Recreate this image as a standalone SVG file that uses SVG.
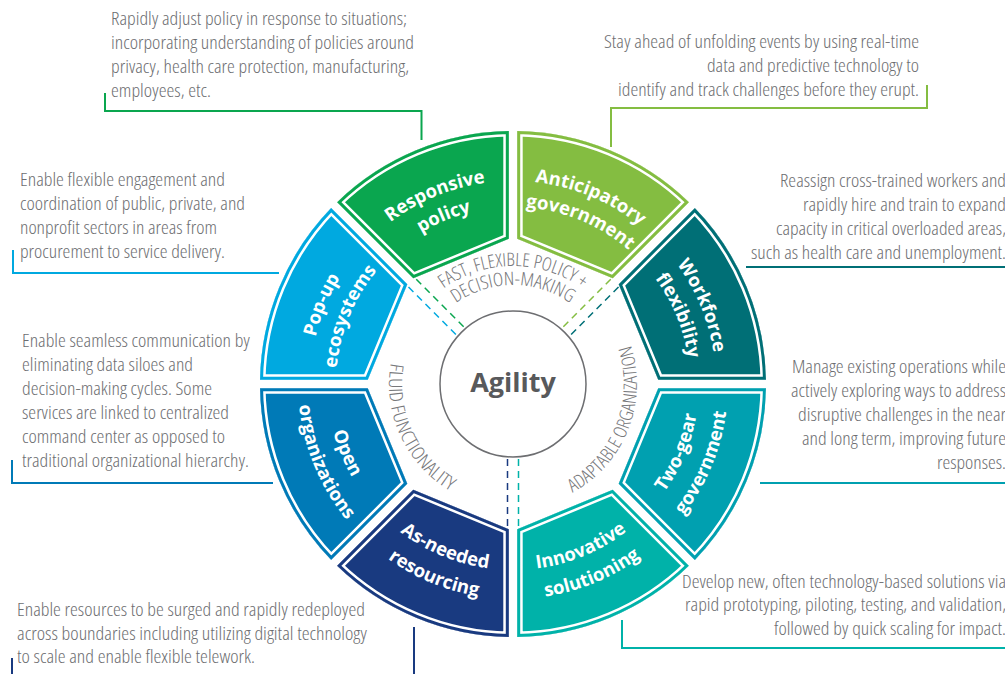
<svg xmlns="http://www.w3.org/2000/svg" xmlns:xlink="http://www.w3.org/1999/xlink" width="1005" height="674" viewBox="0 0 1005 674">
<style>
.desc{font-family:"Open Sans","Liberation Sans",sans-serif;font-weight:300;font-stretch:condensed;font-size:17.5px;fill:#6d6e71;}
.lbl{font-family:"Open Sans","Liberation Sans",sans-serif;font-weight:700;font-size:18.5px;fill:#fff;}
.ring{font-family:"Open Sans","Liberation Sans",sans-serif;font-weight:300;font-stretch:condensed;font-size:18.5px;fill:#77787b;}
.conn{fill:none;stroke-width:2;}
.dash{fill:none;stroke-width:1.5;stroke-dasharray:7 5;}
.segfill{fill:currentColor;}
.segwhite{fill:none;stroke:#fff;stroke-width:11;stroke-linejoin:miter;}
.segline{fill:none;stroke:currentColor;stroke-width:6;stroke-linejoin:miter;}
</style>
<defs>
<path id="seg" d="M4.2,-252.97 A253,253 0 0 1 175.9,-181.84 L99.74,-105.68 L4.2,-145.26 Z"/>
<clipPath id="segclip"><use xlink:href="#seg" href="#seg"/></clipPath>
<path id="a-rp1" d="M332.94,290.26 A203,203 0 0 1 574.04,190.39"/>
<path id="a-rp2" d="M356,302.27 A177,177 0 0 1 566.23,215.19"/>
<path id="a-ag1" d="M451.96,190.39 A203,203 0 0 1 693.06,290.26"/>
<path id="a-ag2" d="M459.77,215.19 A177,177 0 0 1 670,302.27"/>
<path id="a-wf1" d="M606.74,203.94 A203,203 0 0 1 706.61,445.04"/>
<path id="a-wf2" d="M594.73,227 A177,177 0 0 1 681.81,437.23"/>
<path id="a-pu1" d="M319.39,445.04 A203,203 0 0 1 419.26,203.94"/>
<path id="a-pu2" d="M344.19,437.23 A177,177 0 0 1 431.27,227"/>
<path id="a-tg1" d="M598.89,548.98 A186,186 0 0 0 690.39,328.07"/>
<path id="a-tg2" d="M612.28,574.71 A215,215 0 0 0 718.05,319.35"/>
<path id="a-is1" d="M457.07,561.39 A186,186 0 0 0 677.98,469.89"/>
<path id="a-is2" d="M448.35,589.05 A215,215 0 0 0 703.71,483.28"/>
<path id="a-an1" d="M348.02,469.89 A186,186 0 0 0 568.93,561.39"/>
<path id="a-an2" d="M322.29,483.28 A215,215 0 0 0 577.65,589.05"/>
<path id="a-oo1" d="M335.61,328.07 A186,186 0 0 0 427.11,548.98"/>
<path id="a-oo2" d="M307.95,319.35 A215,215 0 0 0 413.72,574.71"/>
<path id="a-fast" d="M410.81,325 A118,118 0 0 1 615.19,325"/>
<path id="a-dec" d="M427.26,334.5 A99,99 0 0 1 598.74,334.5"/>
<path id="a-fluid" d="M411.43,312.88 A124,124 0 0 0 502.19,507.53"/>
<path id="a-adapt" d="M531.33,506.64 A124,124 0 0 0 610.04,306.81"/>
</defs>
<rect width="1005" height="674" fill="#fff"/>

<g id="connectors">
<polyline class="conn" stroke="#0aa64f" points="105,93 105,111 421.5,111 421.5,140"/>
<polyline class="conn" stroke="#84bd41" points="927,85 927,108 611,108 611,147"/>
<polyline class="conn" stroke="#00a9e0" points="13,250 13,273 279,273"/>
<polyline class="conn" stroke="#006f76" points="746,267 1006,267"/>
<polyline class="conn" stroke="#007ab7" points="12,460 12,483 273,483"/>
<polyline class="conn" stroke="#00a0b0" points="760,483 1006,483"/>
<polyline class="conn" stroke="#00b2a9" points="622,620 622,648 1006,648"/>
<polyline class="conn" stroke="#193a80" points="12,658 12,690 414,690 414,627"/>
</g>

<g id="dividers">
<line class="dash" stroke="#0aa64f" x1="463.65" y1="326.67" x2="414.15" y2="277.17"/>
<line class="dash" stroke="#00a9e0" x1="455.87" y1="334.45" x2="406.37" y2="284.95"/>
<line class="dash" stroke="#84bd41" x1="563.35" y1="326.67" x2="612.85" y2="277.17"/>
<line class="dash" stroke="#006f76" x1="571.13" y1="334.45" x2="620.63" y2="284.95"/>
<line class="dash" stroke="#193a80" x1="507.5" y1="459" x2="507.5" y2="530"/>
<line class="dash" stroke="#00b2a9" x1="518.5" y1="459" x2="518.5" y2="530"/>
</g>

<g id="responsive-policy" style="color:#0aa64f">
<g transform="translate(513 384) rotate(315)"><use href="#seg" class="segfill"/><use href="#seg" class="segwhite" clip-path="url(#segclip)"/><use href="#seg" class="segline" clip-path="url(#segclip)"/></g>
<text class="lbl"><textPath href="#a-rp1" startOffset="50%" text-anchor="middle">Responsive</textPath></text>
<text class="lbl"><textPath href="#a-rp2" startOffset="50%" text-anchor="middle">policy</textPath></text>
</g>

<g id="anticipatory-government" style="color:#84bd41">
<g transform="translate(513 384)"><use href="#seg" class="segfill"/><use href="#seg" class="segwhite" clip-path="url(#segclip)"/><use href="#seg" class="segline" clip-path="url(#segclip)"/></g>
<text class="lbl"><textPath href="#a-ag1" startOffset="50%" text-anchor="middle">Anticipatory</textPath></text>
<text class="lbl"><textPath href="#a-ag2" startOffset="50%" text-anchor="middle">government</textPath></text>
</g>

<g id="workforce-flexibility" style="color:#006f76">
<g transform="translate(513 384) rotate(45)"><use href="#seg" class="segfill"/><use href="#seg" class="segwhite" clip-path="url(#segclip)"/><use href="#seg" class="segline" clip-path="url(#segclip)"/></g>
<text class="lbl"><textPath href="#a-wf1" startOffset="50%" text-anchor="middle">Workforce</textPath></text>
<text class="lbl"><textPath href="#a-wf2" startOffset="50%" text-anchor="middle">flexibility</textPath></text>
</g>

<g id="two-gear-government" style="color:#00a0b0">
<g transform="translate(513 384) rotate(90)"><use href="#seg" class="segfill"/><use href="#seg" class="segwhite" clip-path="url(#segclip)"/><use href="#seg" class="segline" clip-path="url(#segclip)"/></g>
<text class="lbl"><textPath href="#a-tg1" startOffset="50%" text-anchor="middle">Two-gear</textPath></text>
<text class="lbl"><textPath href="#a-tg2" startOffset="50%" text-anchor="middle">government</textPath></text>
</g>

<g id="innovative-solutioning" style="color:#00b2a9">
<g transform="translate(513 384) rotate(135)"><use href="#seg" class="segfill"/><use href="#seg" class="segwhite" clip-path="url(#segclip)"/><use href="#seg" class="segline" clip-path="url(#segclip)"/></g>
<text class="lbl"><textPath href="#a-is1" startOffset="50%" text-anchor="middle">Innovative</textPath></text>
<text class="lbl"><textPath href="#a-is2" startOffset="50%" text-anchor="middle">solutioning</textPath></text>
</g>

<g id="as-needed-resourcing" style="color:#193a80">
<g transform="translate(513 384) rotate(180)"><use href="#seg" class="segfill"/><use href="#seg" class="segwhite" clip-path="url(#segclip)"/><use href="#seg" class="segline" clip-path="url(#segclip)"/></g>
<text class="lbl"><textPath href="#a-an1" startOffset="50%" text-anchor="middle">As-needed</textPath></text>
<text class="lbl"><textPath href="#a-an2" startOffset="50%" text-anchor="middle">resourcing</textPath></text>
</g>

<g id="open-organizations" style="color:#007ab7">
<g transform="translate(513 384) rotate(225)"><use href="#seg" class="segfill"/><use href="#seg" class="segwhite" clip-path="url(#segclip)"/><use href="#seg" class="segline" clip-path="url(#segclip)"/></g>
<text class="lbl"><textPath href="#a-oo1" startOffset="50%" text-anchor="middle">Open</textPath></text>
<text class="lbl"><textPath href="#a-oo2" startOffset="50%" text-anchor="middle">organizations</textPath></text>
</g>

<g id="pop-up-ecosystems" style="color:#00a9e0">
<g transform="translate(513 384) rotate(270)"><use href="#seg" class="segfill"/><use href="#seg" class="segwhite" clip-path="url(#segclip)"/><use href="#seg" class="segline" clip-path="url(#segclip)"/></g>
<text class="lbl"><textPath href="#a-pu1" startOffset="50%" text-anchor="middle">Pop-up</textPath></text>
<text class="lbl"><textPath href="#a-pu2" startOffset="50%" text-anchor="middle">ecosystems</textPath></text>
</g>

<g id="ring-labels">
<text class="ring"><textPath href="#a-fast" startOffset="50%" text-anchor="middle" textLength="148" lengthAdjust="spacingAndGlyphs">FAST, FLEXIBLE POLICY +</textPath></text>
<text class="ring"><textPath href="#a-dec" startOffset="50%" text-anchor="middle" textLength="122" lengthAdjust="spacingAndGlyphs">DECISION-MAKING</textPath></text>
<text class="ring"><textPath href="#a-fluid" startOffset="50%" text-anchor="middle" textLength="150" lengthAdjust="spacingAndGlyphs">FLUID FUNCTIONALITY</textPath></text>
<text class="ring"><textPath href="#a-adapt" startOffset="50%" text-anchor="middle" textLength="172" lengthAdjust="spacingAndGlyphs">ADAPTABLE ORGANIZATION</textPath></text>
</g>

<g id="agility">
<circle cx="513" cy="384" r="73" fill="#fff" stroke="#6d6e71" stroke-width="1.5"/>
<text x="513" y="392" text-anchor="middle" font-family="'Open Sans','Liberation Sans',sans-serif" font-weight="700" font-size="27" fill="#58595b">Agility</text>
</g>

<g id="desc-responsive">
<text class="desc" x="111" y="25" textLength="296" lengthAdjust="spacingAndGlyphs">Rapidly adjust policy in response to situations;</text>
<text class="desc" x="111" y="49" textLength="303" lengthAdjust="spacingAndGlyphs">incorporating understanding of policies around</text>
<text class="desc" x="111" y="73" textLength="298" lengthAdjust="spacingAndGlyphs">privacy, health care protection, manufacturing,</text>
<text class="desc" x="111" y="97" textLength="100" lengthAdjust="spacingAndGlyphs">employees, etc.</text>
</g>
<g id="desc-anticipatory">
<text class="desc" x="604" y="48" textLength="315" lengthAdjust="spacingAndGlyphs">Stay ahead of unfolding events by using real-time</text>
<text class="desc" x="707" y="72" textLength="212" lengthAdjust="spacingAndGlyphs">data and predictive technology to</text>
<text class="desc" x="618" y="96" textLength="301" lengthAdjust="spacingAndGlyphs">identify and track challenges before they erupt.</text>
</g>
<g id="desc-popup">
<text class="desc" x="20" y="186" textLength="205" lengthAdjust="spacingAndGlyphs">Enable flexible engagement and</text>
<text class="desc" x="20" y="210" textLength="225" lengthAdjust="spacingAndGlyphs">coordination of public, private, and</text>
<text class="desc" x="20" y="234" textLength="197" lengthAdjust="spacingAndGlyphs">nonprofit sectors in areas from</text>
<text class="desc" x="20" y="258" textLength="205" lengthAdjust="spacingAndGlyphs">procurement to service delivery.</text>
</g>
<g id="desc-workforce">
<text class="desc" x="780" y="187" textLength="226" lengthAdjust="spacingAndGlyphs">Reassign cross-trained workers and</text>
<text class="desc" x="803" y="211" textLength="203" lengthAdjust="spacingAndGlyphs">rapidly hire and train to expand</text>
<text class="desc" x="776" y="235" textLength="230" lengthAdjust="spacingAndGlyphs">capacity in critical overloaded areas,</text>
<text class="desc" x="751" y="259" textLength="255" lengthAdjust="spacingAndGlyphs">such as health care and unemployment.</text>
</g>
<g id="desc-open">
<text class="desc" x="22" y="347" textLength="228" lengthAdjust="spacingAndGlyphs">Enable seamless communication by</text>
<text class="desc" x="22" y="371" textLength="171" lengthAdjust="spacingAndGlyphs">eliminating data siloes and</text>
<text class="desc" x="22" y="395" textLength="190" lengthAdjust="spacingAndGlyphs">decision-making cycles. Some</text>
<text class="desc" x="22" y="419" textLength="207" lengthAdjust="spacingAndGlyphs">services are linked to centralized</text>
<text class="desc" x="22" y="443" textLength="203" lengthAdjust="spacingAndGlyphs">command center as opposed to</text>
<text class="desc" x="22" y="467" textLength="227" lengthAdjust="spacingAndGlyphs">traditional organizational hierarchy.</text>
</g>
<g id="desc-twogear">
<text class="desc" x="792" y="373" textLength="214" lengthAdjust="spacingAndGlyphs">Manage existing operations while</text>
<text class="desc" x="791" y="397" textLength="215" lengthAdjust="spacingAndGlyphs">actively exploring ways to address</text>
<text class="desc" x="798" y="421" textLength="208" lengthAdjust="spacingAndGlyphs">disruptive challenges in the near</text>
<text class="desc" x="802" y="445" textLength="204" lengthAdjust="spacingAndGlyphs">and long term, improving future</text>
<text class="desc" x="937" y="469" textLength="69" lengthAdjust="spacingAndGlyphs">responses.</text>
</g>
<g id="desc-innovative">
<text class="desc" x="682" y="588" textLength="324" lengthAdjust="spacingAndGlyphs">Develop new, often technology-based solutions via</text>
<text class="desc" x="685" y="611" textLength="321" lengthAdjust="spacingAndGlyphs">rapid prototyping, piloting, testing, and validation,</text>
<text class="desc" x="774" y="635" textLength="232" lengthAdjust="spacingAndGlyphs">followed by quick scaling for impact.</text>
</g>
<g id="desc-asneeded">
<text class="desc" x="17" y="616" textLength="348" lengthAdjust="spacingAndGlyphs">Enable resources to be surged and rapidly redeployed</text>
<text class="desc" x="17" y="640" textLength="350" lengthAdjust="spacingAndGlyphs">across boundaries including utilizing digital technology</text>
<text class="desc" x="17" y="663" textLength="238" lengthAdjust="spacingAndGlyphs">to scale and enable flexible telework.</text>
</g>
</svg>
